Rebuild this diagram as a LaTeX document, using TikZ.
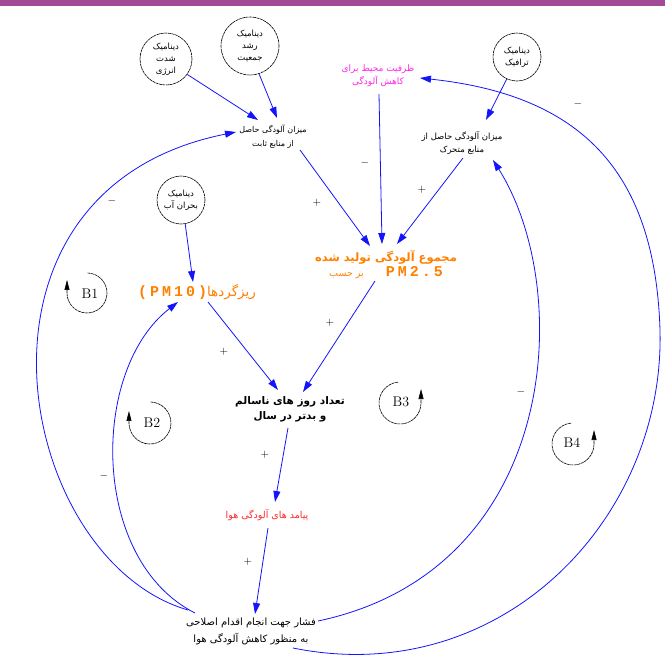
\documentclass[tikz,border=0pt]{standalone}
\usepackage{fontspec}
\usetikzlibrary{arrows.meta,calc}
\TeXXeTstate=1
\newfontfamily\fa[Script=Arabic]{DejaVu Sans}
\newfontfamily\pmfont[LetterSpace=20]{Liberation Mono}
\newcommand\rtl[1]{\beginR#1\endR}
\definecolor{barpurple}{RGB}{162,74,151}
\definecolor{flowblue}{RGB}{20,20,250}
\definecolor{pmorange}{RGB}{255,128,0}
\definecolor{cappink}{RGB}{255,40,230}
\definecolor{conred}{RGB}{255,40,40}
\tikzset{
  dyn/.style={circle, draw, line width=0.6pt, dash pattern=on 3pt off 0.6pt,
    inner sep=0pt, align=center, font=\fa\fontsize{8.5}{12}\selectfont},
  lbl/.style={inner sep=1pt, align=center, font=\fa\fontsize{8}{14}\selectfont},
  conn/.style={draw=flowblue, line width=0.8pt, -{Triangle[length=11pt,width=7pt]}},
  sgn/.style={inner sep=0pt, font=\fontsize{11}{11}\selectfont},
  loopname/.style={inner sep=0pt, font=\fontsize{14}{14}\selectfont},
  loopline/.style={line width=0.6pt, dash pattern=on 3pt off 0.6pt,
    -{Triangle[length=10pt,width=5pt]}}
}
\begin{document}
\begin{tikzpicture}[x=1pt,y=-1pt]
\useasboundingbox (0,0) rectangle (665,657);
\fill[barpurple] (0,0) rectangle (665,6);

% external dynamics
\node[dyn, minimum size=52pt] (c1) at (166,59) {\rtl{دینامیک}\\\rtl{شدت}\\\rtl{انرژی}};
\node[dyn, minimum size=58pt] (c2) at (250,46) {\rtl{دینامیک}\\\rtl{رشد}\\\rtl{جمعیت}};
\node[dyn, minimum size=48pt] (c3) at (517,57) {\rtl{دینامیک}\\\rtl{ترافیک}};
\node[dyn, minimum size=48pt] (c4) at (181,200) {\rtl{دینامیک}\\\rtl{بحران آب}};

% variables
\node[lbl] (fixed) at (273,137) {\rtl{میزان آلودگی حاصل}\\\rtl{از منابع ثابت}};
\node[lbl, text=cappink, font=\fa\fontsize{9}{13}\selectfont] (cap) at (378,76) {\rtl{ظرفیت محیط برای}\\\rtl{کاهش آلودگی}};
\node[lbl, font=\fa\fontsize{8.5}{13}\selectfont] (mobile) at (462,143) {\rtl{میزان آلودگی حاصل از}\\\rtl{منابع متحرک}};
\node[lbl, text=pmorange, font=\fa\bfseries\fontsize{11.5}{15}\selectfont] (total) at (386,265)
  {\rtl{مجموع آلودگی تولید شده}\\{\mdseries\fontsize{9.5}{15}\selectfont\rtl{بر حسب}}\hspace{22pt}{\pmfont\bfseries\fontsize{15}{15}\selectfont PM2.5}};
\node[lbl, text=pmorange, font=\fa\fontsize{13.5}{14}\selectfont] (pm10) at (197,292) {{\pmfont\bfseries\fontsize{15}{15}\selectfont (PM10)}\rtl{ریزگردها}};
\node[lbl, font=\fa\bfseries\fontsize{10.5}{15}\selectfont] (days) at (290,409) {\rtl{تعداد روز های ناسالم}\\\rtl{و بدتر در سال}};
\node[lbl, text=conred, font=\fa\fontsize{9.5}{14}\selectfont] (cons) at (267,515) {\rtl{پیامد های آلودگی هوا}};
\node[lbl, font=\fa\fontsize{10}{17}\selectfont] (press) at (251,631) {\rtl{فشار جهت انجام اقدام اصلاحی}\\\rtl{به منظور کاهش آلودگی هوا}};

% causal links
\draw[conn] (c1.-36) -- ($(fixed)+(-15,-17)$);
\draw[conn] (c2.-72) -- ($(fixed)+(4,-19)$);
\draw[conn] (c3.-115) -- ($(mobile)+(24,-23)$);
\draw[conn] ($(fixed)+(27,13)$) -- ($(total)+(-16,-19)$);
\draw[conn] ($(cap)+(1,18)$) -- ($(total)+(-4,-21)$);
\draw[conn] ($(mobile)+(1,15)$) -- ($(total)+(11,-21)$);
\draw[conn] (c4.-80) -- ($(pm10)+(-4,-10)$);
\draw[conn] ($(pm10)+(11,10)$) -- ($(days)+(-12,-19)$);
\draw[conn] ($(total)+(-11,16)$) -- ($(days)+(13,-17)$);
\draw[conn] ($(days)+(-2,19)$) -- ($(cons)+(8,-13)$);
\draw[conn] ($(cons)+(1,13)$) -- ($(press)+(4,-17)$);

% feedback links from the corrective pressure
\draw[conn] ($(press)+(-63,-21)$) .. controls (15,560) and (-55,190) .. ($(fixed)+(-37,-5)$);
\draw[conn] ($(press)+(-56,-18)$) .. controls (90,560) and (90,370) .. ($(pm10)+(-19,10)$);
\draw[conn] ($(press)+(67,-10)$) .. controls (560,570) and (575,290) .. ($(mobile)+(31,17)$);
\draw[conn] ($(press)+(42,17)$) .. controls (500,690) and (665,520) .. (660,330)
  .. controls (655,170) and (580,95) .. ($(cap)+(42,2)$);

% polarities
\node[sgn] (s1) at (317,203) {$+$};
\node[sgn] (s2) at (365,163) {$-$};
\node[sgn] (s3) at (422,190) {$+$};
\node[sgn] (s4) at (330,323) {$+$};
\node[sgn] (s5) at (224,352) {$+$};
\node[sgn] (s6) at (265,455) {$+$};
\node[sgn] (s7) at (248,562) {$+$};
\node[sgn] (s8) at (112,201) {$-$};
\node[sgn] (s9) at (104,476) {$-$};
\node[sgn] (s10) at (521,392) {$-$};
\node[sgn] (s11) at (578,104) {$-$};

% balancing loop markers
\node[loopname] (b1) at (90,294) {B1};
\draw[loopline] (87.7,273) arc[start angle=-88, end angle=180, radius=20] -- ++(0,-13);
\node[loopname] (b2) at (152,423) {B2};
\draw[loopline] (150.7,402) arc[start angle=-88, end angle=180, radius=21] -- ++(0,-12);
\node[loopname] (b3) at (401,402) {B3};
\draw[loopline] (398.2,382.1) arc[start angle=-95, end angle=-360, radius=21] -- ++(0,-14);
\node[loopname] (b4) at (572,443) {B4};
\draw[loopline] (571.2,423.1) arc[start angle=-95, end angle=-360, radius=21] -- ++(0,-14);
\end{tikzpicture}
\end{document}
